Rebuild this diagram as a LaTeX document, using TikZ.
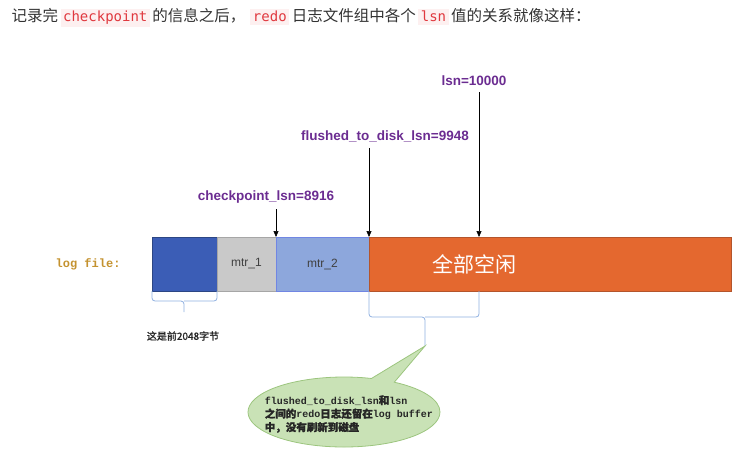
\documentclass[tikz,border=0pt]{standalone}
\usepackage{fontspec}
\setmainfont{Noto Sans CJK SC}
\newfontfamily\cjk{Noto Sans CJK SC}
\newfontfamily\cjkbold[FakeBold=1.2]{Noto Sans CJK SC}
\newfontfamily\codefont{DejaVu Sans Mono}
\newfontfamily\labelfont{Liberation Sans}
\newfontfamily\termfont{Liberation Mono}
\usetikzlibrary{positioning, shapes.callouts, arrows.meta, calc}

\definecolor{codered}{HTML}{E0383E}
\definecolor{codebg}{HTML}{FDF0F0}
\definecolor{lsnpurple}{HTML}{6B2C91}
\definecolor{headblue}{HTML}{3B5DB6}
\definecolor{headedge}{HTML}{2C4684}
\definecolor{mtrgray}{HTML}{C9C9C9}
\definecolor{mtrblue}{HTML}{8DA7DC}
\definecolor{freeorange}{HTML}{E4682F}
\definecolor{freeedge}{HTML}{B4552C}
\definecolor{logtan}{HTML}{C4922F}
\definecolor{bracecol}{HTML}{8FB0E0}
\definecolor{notefill}{HTML}{C9E2B6}
\definecolor{noteedge}{HTML}{9CC57E}

\newcommand{\code}[1]{{\setlength{\fboxsep}{2.5pt}\colorbox{codebg}{\textcolor{codered}{\codefont\fontsize{14}{17}\selectfont #1}}}}

\begin{document}
\begin{tikzpicture}[
        x=1pt, y=-1pt,
        seg/.style={rectangle, draw, line width=0.8pt, minimum height=54pt, inner sep=0pt, outer sep=0pt},
        lsnlabel/.style={font=\labelfont\bfseries\fontsize{13.5}{16}\selectfont, text=lsnpurple, inner sep=2pt},
        ptr/.style={-{Triangle[width=5pt,length=6pt]}, line width=0.6pt, shorten <=4pt},
        bracket/.style={draw=bracecol, line width=0.8pt, rounded corners=3pt},
        bubble/.style={ellipse callout, draw=noteedge, fill=notefill, line width=0.8pt}
    ]
        \useasboundingbox (0,0) rectangle (752,456);

        \node[anchor=west, text=black!80, font=\fontsize{15.5}{18}\selectfont] (title) at (8,18)
            {记录完\,\code{checkpoint}\,的信息之后，\hspace{5pt}\code{redo}\,日志文件组中各个\,\code{lsn}\,值的关系就像这样：};

        % log file segments
        \node[seg, anchor=north west, fill=headblue, draw=headedge, minimum width=65pt] (first) at (152,237) {};
        \node[seg, right=0pt of first, fill=mtrgray, draw=black!35, minimum width=59pt,
              font=\labelfont\fontsize{12}{14}\selectfont, text=black!75] (mtr1) {mtr\_1};
        \node[seg, right=0pt of mtr1, fill=mtrblue, draw=mtrblue!80!blue, minimum width=93pt,
              font=\labelfont\fontsize{12}{14}\selectfont, text=black!75] (mtr2) {mtr\_2};
        \node[seg, right=0pt of mtr2, fill=freeorange, draw=freeedge, minimum width=362pt] (free) {};
        \node[text=white, font=\cjk\fontsize{21}{24}\selectfont] (freetext) at ($(free.west)+(105,0)$) {全部空闲};
        \node[left=28pt of first, font=\termfont\bfseries\fontsize{12}{14}\selectfont, text=logtan] (logtag) {log file:};

        % lsn pointers
        \node[lsnlabel] (ckpt) at (266,197) {checkpoint\_lsn=8916};
        \node[lsnlabel] (flushed) at (385,136) {flushed\_to\_disk\_lsn=9948};
        \node[lsnlabel] (lsn) at (474,81) {lsn=10000};
        \coordinate (lsnpt) at ($(free.north west)+(110,0)$);

        \draw[ptr] (ckpt.south -| mtr2.north west) -- (mtr2.north west);
        \draw[ptr] (flushed.south -| free.north west) -- (free.north west);
        \draw[ptr] (lsn.south -| lsnpt) -- (lsnpt);

        % braces
        \draw[bracket] (first.south west) |- (184,301) -- (184,312);
        \draw[bracket] (first.south east) |- (184,301);
        \node[font=\cjkbold\fontsize{10}{12}\selectfont, text=black!85] (headnote) at (183,336) {这是前2048字节};

        \coordinate (tip) at (425,346);
        \draw[bracket] (free.south west) |- (425,317) -- (tip);
        \draw[bracket] (lsnpt |- free.south) |- (425,317);

        % callout
        \node[bubble, minimum width=192pt, minimum height=70pt, callout absolute pointer={(tip)}] (bubble) at (344,412) {};
        \node[anchor=west, align=left, inner sep=0pt, text=black!85,
              font=\termfont\bfseries\fontsize{10}{13.5}\selectfont] (note) at ($(bubble.west)+(17,2)$)
            {flushed\_to\_disk\_lsn{\cjkbold\fontsize{10.5}{13.5}\selectfont 和}lsn\\
             {\cjkbold\fontsize{10.5}{13.5}\selectfont 之间的}redo{\cjkbold\fontsize{10.5}{13.5}\selectfont 日志还留在}log buffer\\
             {\cjkbold\fontsize{10.5}{13.5}\selectfont 中，没有刷新到磁盘}};
    \end{tikzpicture}
\end{document}
